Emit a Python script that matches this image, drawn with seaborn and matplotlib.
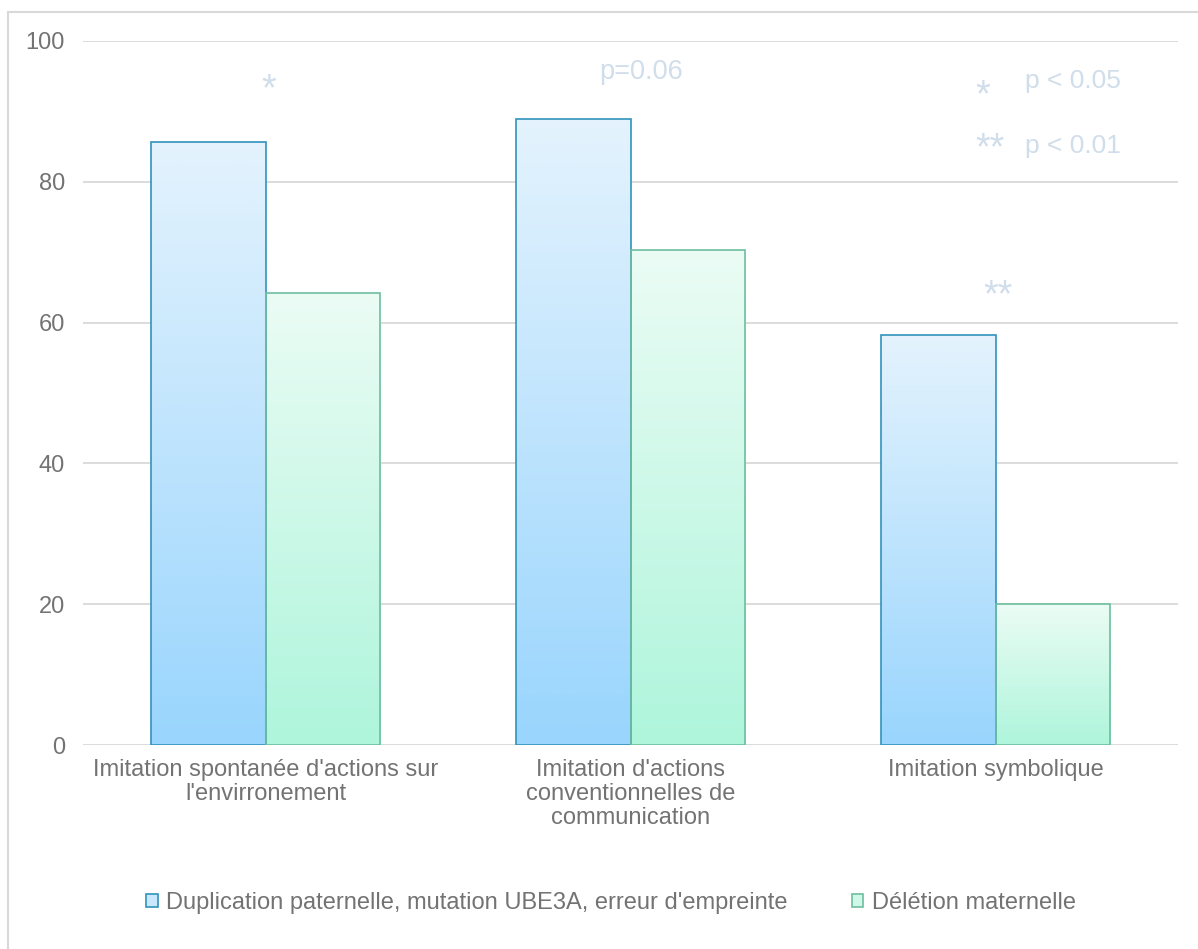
import numpy as np
import pandas as pd
import matplotlib
matplotlib.use("Agg")
import matplotlib.pyplot as plt
from matplotlib.colors import LinearSegmentedColormap
from matplotlib.patches import Patch
from matplotlib.lines import Line2D
import seaborn as sns

categories = ["Imitation spontanée d'actions sur\nl'envirronement",
              "Imitation d'actions\nconventionnelles de\ncommunication",
              "Imitation symbolique"]
series_names = ["Duplication paternelle, mutation UBE3A, erreur d'empreinte",
                "Délétion maternelle"]
dup_values = [85.7, 88.9, 58.2]
del_values = [64.2, 70.3, 20.0]
y_ticks = [0, 20, 40, 60, 80, 100]
sig_marks = ["*", "p=0.06", "**"]

df = pd.DataFrame({
    "cat": categories * 2,
    "group": [series_names[0]] * 3 + [series_names[1]] * 3,
    "val": dup_values + del_values,
})

sns.set_theme(style="white")
plt.rcParams["font.family"] = ["Liberation Sans", "DejaVu Sans"]

W, H = 1198, 949
fig = plt.figure(figsize=(W / 100, H / 100), dpi=100)
ax = fig.add_axes([83 / W, 1 - 745 / H, (1178 - 83) / W, (745 - 41) / H])

edge_cols = ["#3193BC", "#6DBE9F"]
grad_cols = [("#E4F3FD", "#99D5FD"), ("#EBFCF5", "#AEF5DC")]
txt_col = "#737373"
fs = 17

sns.barplot(data=df, x="cat", y="val", hue="group", hue_order=series_names,
            order=categories, width=0.63, gap=0, ax=ax,
            palette=["#C0E4FD", "#CDF8E8"], legend=False, saturation=1)

grad = np.linspace(0, 1, 256).reshape(-1, 1)
bars = [p for p in ax.patches]
for i, p in enumerate(bars):
    s = 0 if i < 3 else 1
    cmap = LinearSegmentedColormap.from_list("g%d" % s, [grad_cols[s][0], grad_cols[s][1]])
    x0, y0 = p.get_x(), p.get_y()
    w, h = p.get_width(), p.get_height()
    im = ax.imshow(grad, extent=[x0, x0 + w, y0, y0 + h], cmap=cmap,
                   aspect="auto", origin="upper", zorder=2, interpolation="bilinear")
    im.set_clip_path(p)
    p.set_facecolor("none")
    p.set_edgecolor(edge_cols[s])
    p.set_linewidth(1.2)
    p.set_zorder(3)

ax.set_xlim(-0.5, 2.5)
ax.set_ylim(0, 100)
ax.set_yticks(y_ticks)
ax.yaxis.grid(True, color="#D9D9D9", linewidth=1.3, zorder=0)
ax.set_axisbelow(True)
for sp in ax.spines.values():
    sp.set_visible(False)
ax.set_xlabel("")
ax.set_ylabel("")
ax.tick_params(axis="y", length=0, pad=13, labelsize=fs, labelcolor=txt_col)
ax.tick_params(axis="x", length=0, pad=10, labelsize=fs, labelcolor=txt_col)
ax.set_xticks(range(3))
ax.set_xticklabels(categories, linespacing=1.12)

ann_col = "#D0DDEA"
star_fs = 27
ax.text(0.01, 91.6, sig_marks[0], ha="center", va="baseline", fontsize=star_fs, color=ann_col)
ax.text(1.029, 95.6, sig_marks[1], ha="center", va="center", fontsize=19.5, color=ann_col)
ax.text(2.007, 62.3, sig_marks[2], ha="center", va="baseline", fontsize=star_fs, color=ann_col)
ax.text(1.944, 90.7, "*", ha="left", va="baseline", fontsize=star_fs, color=ann_col)
ax.text(2.081, 93.3, "p < 0.05", ha="left", va="baseline", fontsize=19, color=ann_col)
ax.text(1.944, 83.2, "**", ha="left", va="baseline", fontsize=star_fs, color=ann_col)
ax.text(2.081, 84.1, "p < 0.01", ha="left", va="baseline", fontsize=19, color=ann_col)

handles = [Patch(facecolor="#C9E8FD", edgecolor=edge_cols[0], linewidth=1.2),
           Patch(facecolor="#CFF8EA", edgecolor=edge_cols[1], linewidth=1.2)]
leg = fig.legend(handles, series_names, loc="center", bbox_to_anchor=(611 / W, 1 - 903 / H),
                 ncol=2, frameon=False, fontsize=fs, handlelength=0.5, handleheight=0.5,
                 handletextpad=0.35, columnspacing=2.7, labelcolor=txt_col)

fig.add_artist(Line2D([8 / W, 8 / W], [0, 1 - 12 / H], transform=fig.transFigure,
                      color="#D9D9D9", linewidth=1.5))
fig.add_artist(Line2D([8 / W, 1], [1 - 12 / H, 1 - 12 / H], transform=fig.transFigure,
                      color="#D9D9D9", linewidth=1.5))

fig.savefig("out.png", dpi=100, facecolor="white")
